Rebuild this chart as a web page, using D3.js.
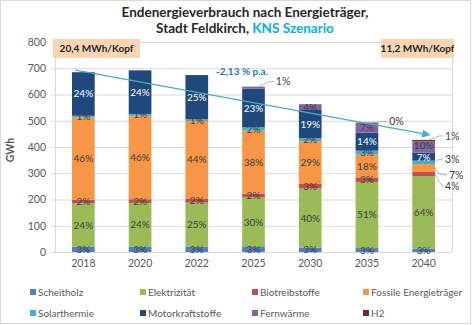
<!DOCTYPE html>
<html><head><meta charset="utf-8">
<script src="https://cdn.jsdelivr.net/npm/d3@7"></script>
<style>
html,body{margin:0;padding:0;background:#fff;}
svg text{font-family:Lato,"Open Sans",sans-serif;}
</style></head>
<body><svg id="c" width="472" height="325"></svg>
<script>
const years = ["2018","2020","2022","2025","2030","2035","2040"];
const seriesNames = ["Scheitholz","Elektrizität","Biotreibstoffe","Fossile Energieträger","Solarthermie","Motorkraftstoffe","Fernwärme","H2"];
const seriesColors = ["#4F81BD","#9BBB59","#C0504D","#F79646","#4BACC6","#1F497D","#8064A2","#772C2A"];
// GWh per year
const scheitholz      = [20, 21, 20, 19, 17, 15, 13];
const elektrizitaet   = [165,166,168,189,225,252,275];
const biotreibstoffe  = [14, 14, 14, 14, 17, 15, 17];
const fossile         = [313,318,297,240,163,89, 30];
const solarthermie    = [7,  7,  7,  13, 12, 15, 13];
const motorkraftstoffe= [166,166,168,147,107,69, 30];
const fernwaerme      = [0,  0,  0,  8,  22, 36, 44];
const h2              = [0,  0,  0,  0,  0,  2,  5];
const yTicks = [0,100,200,300,400,500,600,700,800];
const perCapita = ["20,4 MWh/Kopf","11,2 MWh/Kopf"];
const trendLabel = "-2,13 % p.a.";
const trendValues = [693, 446];

const values = [scheitholz,elektrizitaet,biotreibstoffe,fossile,solarthermie,motorkraftstoffe,fernwaerme,h2];
const rows = years.map((y,i)=>{const o={year:y};seriesNames.forEach((s,k)=>o[s]=values[k][i]);return o;});
const totals = years.map((y,i)=>d3.sum(values,v=>v[i]));

const svg = d3.select("#c");
svg.append("rect").attr("x",0.5).attr("y",0.5).attr("width",470).attr("height",323)
  .attr("fill","#fff").attr("stroke","#D9D9D9");

const L=55,R=452,T=42,B=252;
const x = d3.scaleBand().domain(years).range([L,R]).paddingInner(0.6).paddingOuter(0.3);
const y = d3.scaleLinear().domain([0,800]).range([B,T]);

// gridlines
svg.append("g").selectAll("line").data(yTicks).join("line")
  .attr("x1",L-4).attr("x2",R).attr("y1",d=>y(d)+0.5).attr("y2",d=>y(d)+0.5)
  .attr("stroke","#D9D9D9").attr("stroke-width",1);
svg.append("line").attr("x1",L+0.5).attr("x2",L+0.5).attr("y1",T).attr("y2",B).attr("stroke","#D9D9D9");
svg.append("line").attr("x1",R+0.5).attr("x2",R+0.5).attr("y1",T).attr("y2",B).attr("stroke","#D9D9D9");

// y axis labels
const yAxis = d3.axisLeft(y).tickValues(yTicks).tickSize(0).tickPadding(0);
const yg = svg.append("g").attr("transform",`translate(${L-9},0)`).call(yAxis);
yg.select(".domain").remove();
yg.selectAll("text").attr("font-size","10.5px").attr("fill","#595959").style("font-family","Lato,sans-serif");

svg.append("text").attr("transform",`translate(14,150) rotate(-90)`).attr("text-anchor","middle")
  .attr("font-size","10.5px").attr("font-weight","bold").attr("fill","#595959").text("GWh");

// x axis labels
const xAxis = d3.axisBottom(x).tickSize(0).tickPadding(0);
const xg = svg.append("g").attr("transform",`translate(0,${B+8})`).call(xAxis);
xg.select(".domain").remove();
xg.selectAll("text").attr("font-size","10.5px").attr("fill","#595959").style("font-family","Lato,sans-serif");

// stacks
const stack = d3.stack().keys(seriesNames)(rows);
const bw = x.bandwidth();
const layers = svg.append("g").selectAll("g").data(stack).join("g").attr("fill",(d,i)=>seriesColors[i]);
layers.selectAll("rect").data(d=>d.map(p=>({p,key:d.key}))).join("rect")
  .attr("x",d=>x(d.p.data.year)).attr("width",bw)
  .attr("y",d=>y(d.p[1])).attr("height",d=>Math.max(0,y(d.p[0])-y(d.p[1])));

// labels
const outside = {"2025|Fernwärme":[1,-5,9,-5], "2035|H2":[1,-1,9,-1],
  "2040|H2":[1,-4,8,-4], "2040|Solarthermie":[1,-3,8,-3], "2040|Fossile Energieträger":[1,6,12,7], "2040|Biotreibstoffe":[1,7,8,12]};
const nudge = {"2040|Fernwärme":-1.5, "2040|Motorkraftstoffe":1};
const lab = svg.append("g");
stack.forEach((layer,k)=>{
  layer.forEach((p,i)=>{
    const v = p[1]-p[0];
    const yr = years[i];
    const key = yr+"|"+layer.key;
    const pct = Math.round(v/totals[i]*100)+"%";
    const cx = x(yr)+bw/2, cy = (y(p[0])+y(p[1]))/2 + (nudge[key]||0);
    if(outside[key]){
      const o = outside[key];
      const sx = x(yr)+bw - (layer.key==="H2"||layer.key==="Fernwärme"? 6:0);
      const sy = layer.key==="H2"||layer.key==="Fernwärme" ? y(p[1]) : cy;
      lab.append("polyline").attr("points",`${sx},${sy} ${x(yr)+bw+o[0]+3},${sy+o[1]} ${x(yr)+bw+o[2]},${sy+o[3]}`)
        .attr("fill","none").attr("stroke","#A6A6A6").attr("stroke-width",0.8);
      lab.append("text").attr("x",x(yr)+bw+o[2]+2).attr("y",sy+o[3]).attr("dy","0.35em")
        .attr("font-size","10.5px").attr("fill","#404040").text(pct);
    } else if(v>0){
      lab.append("text").attr("x",cx).attr("y",cy).attr("dy","0.35em").attr("text-anchor","middle")
        .attr("font-size","10px").attr("fill",layer.key==="Motorkraftstoffe"?"#FFFFFF":"#404040").text(pct);
    }
  });
});

// trend arrow
svg.append("defs").append("marker").attr("id","ah").attr("viewBox","0 0 10 10").attr("refX",9).attr("refY",5)
  .attr("markerWidth",7).attr("markerHeight",7).attr("orient","auto")
  .append("path").attr("d","M0,0 L10,5 L0,10 z").attr("fill","#4BACC6");
svg.append("line").attr("x1",x(years[0])+bw/2-8).attr("y1",y(trendValues[0]))
  .attr("x2",x(years[6])+bw/2+6).attr("y2",y(trendValues[1]))
  .attr("stroke","#4BACC6").attr("stroke-width",1.2).attr("marker-end","url(#ah)");
svg.append("text").attr("x",242).attr("y",75).attr("text-anchor","middle").attr("font-size","10px")
  .attr("font-weight","bold").attr("fill","#2E75B6").text(trendLabel);

// per-capita boxes
const boxes = [[53,87,perCapita[0]],[381,73,perCapita[1]]];
boxes.forEach(([bx,bwid,t])=>{
  svg.append("rect").attr("x",bx).attr("y",39).attr("width",bwid).attr("height",19).attr("fill","#FBD4B4");
  svg.append("text").attr("x",bx+bwid/2).attr("y",48.5).attr("dy","0.35em").attr("text-anchor","middle")
    .attr("font-size","10px").attr("font-weight","bold").attr("fill","#262626").text(t);
});

// title
const title = svg.append("text").attr("text-anchor","middle").attr("font-size","13.5px").attr("font-weight","bold").attr("fill","#262626");
title.append("tspan").attr("x",245).attr("y",17).text("Endenergieverbrauch nach Energieträger,");
const t2 = title.append("tspan").attr("x",245).attr("y",33);
t2.append("tspan").text("Stadt Feldkirch, ");
t2.append("tspan").attr("fill","#00B0F0").text("KNS Szenario");

// legend
const legX = [30,140,252,363];
const lg = svg.append("g");
seriesNames.forEach((s,i)=>{
  const gx = legX[i%4], gy = i<4 ? 292 : 313;
  lg.append("rect").attr("x",gx).attr("y",gy-3).attr("width",6).attr("height",6).attr("fill",seriesColors[i]);
  lg.append("text").attr("x",gx+8).attr("y",gy).attr("dy","0.35em").attr("font-size","10px").attr("fill","#595959").text(s);
});
</script></body></html>
